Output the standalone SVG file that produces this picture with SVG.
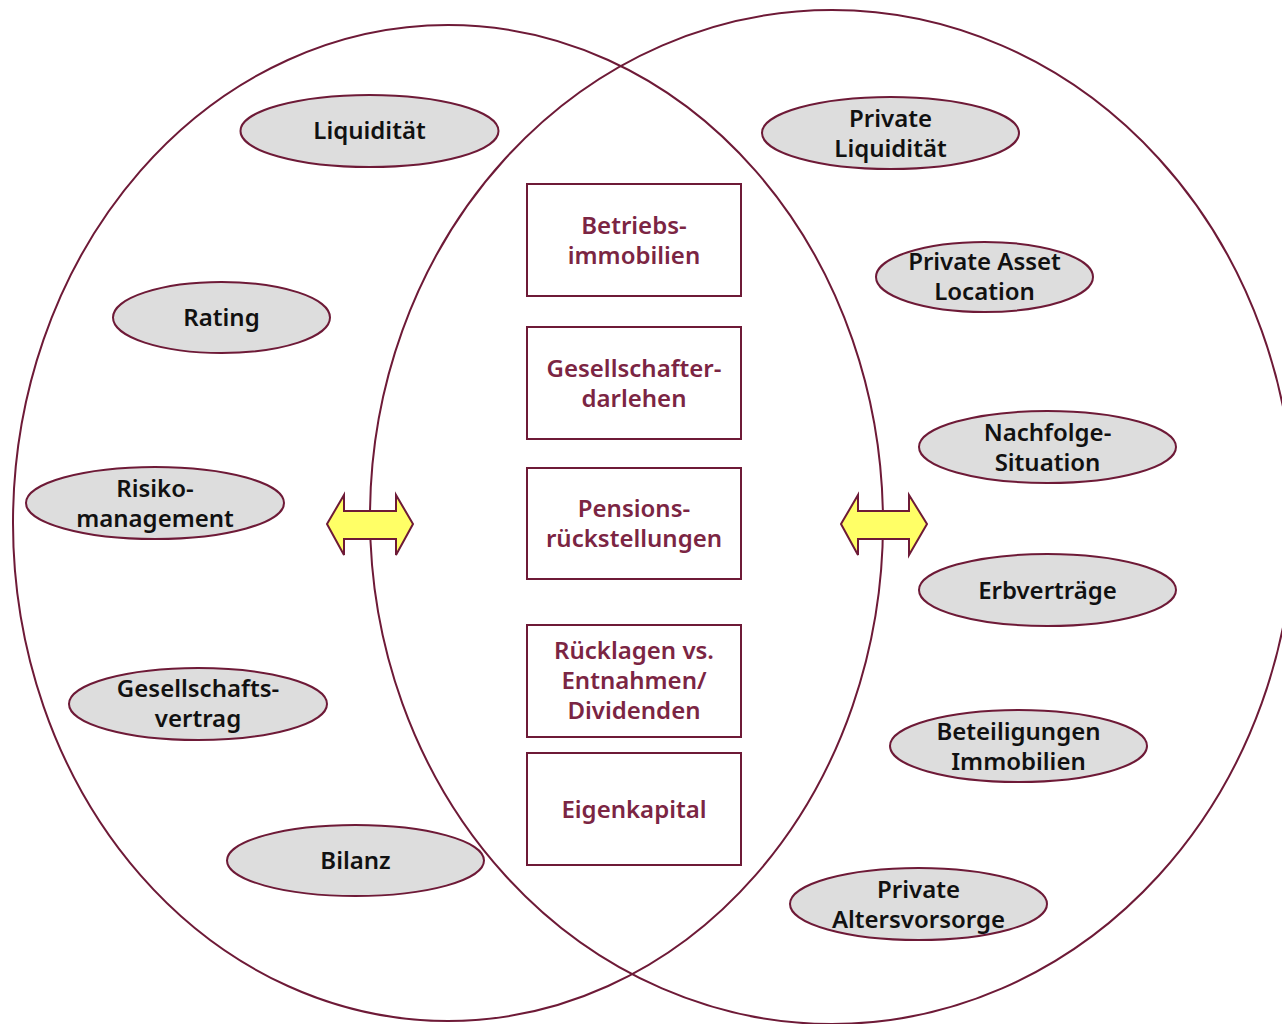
<svg xmlns="http://www.w3.org/2000/svg" width="1282" height="1024" viewBox="0 0 1282 1024">
<style>
.big{fill:none;stroke:#6E1A37;stroke-width:2}
.ov ellipse{fill:#DDDDDD;stroke:#6E1A37;stroke-width:2}
.ov text{font-family:"Noto Sans","DejaVu Sans",sans-serif;font-weight:600;font-size:24px;fill:#111;text-anchor:middle}
.bx rect{fill:#fff;stroke:#6E1A37;stroke-width:2}
.bx text{font-family:"Noto Sans","DejaVu Sans",sans-serif;font-weight:600;font-size:24px;fill:#7B2543;text-anchor:middle}
.arr{fill:#FFFF66;stroke:#6E1A37;stroke-width:2;stroke-linejoin:miter}
</style>
<rect width="1282" height="1024" fill="#fff"/>
<g id="circles">
<ellipse class="big" cx="448" cy="523" rx="435" ry="498"/>
<ellipse class="big" cx="832" cy="517" rx="462" ry="507"/>
</g>
<g id="connectors">
<path class="arr" d="M327,524 L344,495 L344,511 L396,511 L396,495 L413,524 L396,555 L396,539 L344,539 L344,555 Z"/>
<path class="arr" d="M841,524 L858,495 L858,511 L909,511 L909,495 L927,524 L909,555 L909,539 L858,539 L858,555 Z"/>
</g>
<g id="n-liquiditaet" class="ov"><ellipse cx="369.5" cy="131" rx="129" ry="36"/><text x="369.5" y="139">Liquidität</text></g>
<g id="n-rating" class="ov"><ellipse cx="221.5" cy="317.5" rx="108.5" ry="35.5"/><text x="221.5" y="326">Rating</text></g>
<g id="n-risiko" class="ov"><ellipse cx="155" cy="503" rx="129" ry="36"/><text x="155" y="497">Risiko-</text><text x="155" y="527">management</text></g>
<g id="n-gesvertrag" class="ov"><ellipse cx="198" cy="704" rx="129" ry="36"/><text x="198" y="697">Gesellschafts-</text><text x="198" y="727">vertrag</text></g>
<g id="n-bilanz" class="ov"><ellipse cx="355.5" cy="860.5" rx="128.5" ry="35.5"/><text x="355.5" y="869">Bilanz</text></g>
<g id="n-privliq" class="ov"><ellipse cx="890.5" cy="133" rx="128.5" ry="36"/><text x="890.5" y="127">Private</text><text x="890.5" y="157">Liquidität</text></g>
<g id="n-asset" class="ov"><ellipse cx="984.5" cy="277" rx="108.5" ry="35"/><text x="984.5" y="270">Private Asset</text><text x="984.5" y="300">Location</text></g>
<g id="n-nachfolge" class="ov"><ellipse cx="1047.5" cy="447" rx="128.5" ry="36"/><text x="1047.5" y="441">Nachfolge-</text><text x="1047.5" y="471">Situation</text></g>
<g id="n-erb" class="ov"><ellipse cx="1047.5" cy="590" rx="128.5" ry="36"/><text x="1047.5" y="599">Erbverträge</text></g>
<g id="n-beteil" class="ov"><ellipse cx="1018.5" cy="746" rx="128.5" ry="36"/><text x="1018.5" y="740">Beteiligungen</text><text x="1018.5" y="770">Immobilien</text></g>
<g id="n-alters" class="ov"><ellipse cx="918.5" cy="904" rx="128.5" ry="36"/><text x="918.5" y="898">Private</text><text x="918.5" y="928">Altersvorsorge</text></g>
<g id="b-betrieb" class="bx"><rect x="527" y="184" width="214" height="112"/><text x="634" y="234">Betriebs-</text><text x="634" y="264">immobilien</text></g>
<g id="b-darlehen" class="bx"><rect x="527" y="327" width="214" height="112"/><text x="634" y="377">Gesellschafter-</text><text x="634" y="407">darlehen</text></g>
<g id="b-pension" class="bx"><rect x="527" y="468" width="214" height="111"/><text x="634" y="517">Pensions-</text><text x="634" y="547">rückstellungen</text></g>
<g id="b-ruecklagen" class="bx"><rect x="527" y="625" width="214" height="112"/><text x="634" y="659">Rücklagen vs.</text><text x="634" y="689">Entnahmen/</text><text x="634" y="719">Dividenden</text></g>
<g id="b-eigen" class="bx"><rect x="527" y="753" width="214" height="112"/><text x="634" y="818">Eigenkapital</text></g>
</svg>
